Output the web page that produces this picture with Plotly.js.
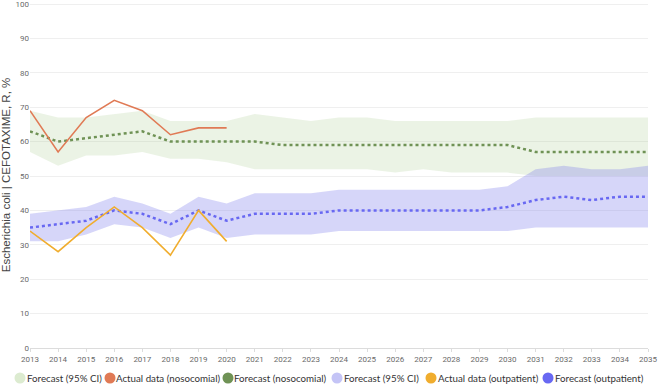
<!DOCTYPE html>
<html>
<head>
<meta charset="utf-8">
<script src="https://cdn.plot.ly/plotly-3.0.1.min.js"></script>
<style>
  html, body { margin: 0; padding: 0; background: #fff; }
  #chart { width: 658px; height: 387px; }
</style>
</head>
<body>
<div id="chart"></div>
<script>
// Years on the horizontal axis
const years = [2013, 2014, 2015, 2016, 2017, 2018, 2019, 2020, 2021, 2022, 2023, 2024,
               2025, 2026, 2027, 2028, 2029, 2030, 2031, 2032, 2033, 2034, 2035];
const actualYears = [2013, 2014, 2015, 2016, 2017, 2018, 2019, 2020];

// Nosocomial isolates
const nosoActual   = [69, 57, 67, 72, 69, 62, 64, 64];
const nosoForecast = [63, 60, 61, 62, 63, 60, 60, 60, 60, 59, 59, 59, 59, 59, 59, 59, 59, 59, 57, 57, 57, 57, 57];
const nosoUpper    = [69, 67, 67, 68, 69, 66, 66, 66, 68, 67, 66, 67, 67, 66, 66, 66, 66, 66, 67, 67, 67, 67, 67];
const nosoLower    = [57, 53, 56, 56, 57, 55, 55, 54, 52, 52, 52, 52, 52, 51, 52, 51, 51, 51, 50, 50, 50, 50, 50];

// Outpatient isolates
const outActual   = [34, 28, 35, 41, 35, 27, 40, 31];
const outForecast = [35, 36, 37, 40, 39, 36, 40, 37, 39, 39, 39, 40, 40, 40, 40, 40, 40, 41, 43, 44, 43, 44, 44];
const outUpper    = [39, 40, 41, 44, 42, 39, 44, 42, 45, 45, 45, 46, 46, 46, 46, 46, 46, 47, 52, 53, 52, 52, 53];
const outLower    = [31, 31, 33, 36, 35, 32, 35, 32, 33, 33, 33, 34, 34, 34, 34, 34, 34, 34, 35, 35, 35, 35, 35];

const yTicks = [0, 10, 20, 30, 40, 50, 60, 70, 80, 90, 100];

const legendNames = ['Forecast (95% CI)', 'Actual data (nosocomial)', 'Forecast (nosocomial)',
                     'Forecast (95% CI)', 'Actual data (outpatient)', 'Forecast (outpatient)'];

const C = {
  nosoBand: 'rgba(160,200,130,0.21)',
  nosoBandKey: '#dcebd0',
  nosoActual: '#e07a55',
  nosoForecast: '#6f9255',
  outBand: 'rgba(120,120,235,0.30)',
  outBandKey: '#c4c4f6',
  outActual: '#f0ad2e',
  outForecast: '#6868f2'
};

const traces = [
  { x: years, y: nosoLower, mode: 'lines', line: { width: 0 }, hoverinfo: 'skip', showlegend: false },
  { x: years, y: nosoUpper, mode: 'lines', line: { width: 0 }, fill: 'tonexty',
    fillcolor: C.nosoBand, name: legendNames[0], showlegend: false },
  { x: years, y: outLower, mode: 'lines', line: { width: 0 }, hoverinfo: 'skip', showlegend: false },
  { x: years, y: outUpper, mode: 'lines', line: { width: 0 }, fill: 'tonexty',
    fillcolor: C.outBand, name: legendNames[3], showlegend: false },
  { x: years, y: nosoForecast, mode: 'lines', name: legendNames[2], showlegend: false,
    line: { color: C.nosoForecast, width: 2.5, dash: '3px,3px' } },
  { x: years, y: outForecast, mode: 'lines', name: legendNames[5], showlegend: false,
    line: { color: C.outForecast, width: 2.5, dash: '3px,3px' } },
  { x: actualYears, y: nosoActual, mode: 'lines', name: legendNames[1], showlegend: false,
    line: { color: C.nosoActual, width: 1.6 } },
  { x: actualYears, y: outActual, mode: 'lines', name: legendNames[4], showlegend: false,
    line: { color: C.outActual, width: 1.6 } }
];

// Plot box in pixels
const plotL = 30, plotW = 618, plotT = 2, plotH = 346;

// Legend row below the axis: a round key and a label per series
const keyColors = [C.nosoBandKey, C.nosoActual, C.nosoForecast, C.outBandKey, C.outActual, C.outForecast];
const keyPx  = [20, 110, 228, 337, 431, 548];
const textPx = [27, 116, 234, 344, 438, 555];
const textRoom = 535;              // pixels the six labels share
const legendPy = 378;
const legendFont = 'Lato';
const toPaperX = px => (px - plotL) / plotW;
const legendY = (plotT + plotH - legendPy) / plotH;

// pick a label size so the six labels fit the room between the keys
const ctx = document.createElement('canvas').getContext('2d');
ctx.font = '20px ' + legendFont;
const w20 = legendNames.reduce((s, n) => s + ctx.measureText(n).width, 0);
const legendSize = Math.min(11.5, 20 * textRoom / w20);

const shapes = [], annotations = [];
legendNames.forEach((name, i) => {
  shapes.push({
    type: 'circle', xref: 'paper', yref: 'paper',
    xsizemode: 'pixel', ysizemode: 'pixel',
    xanchor: toPaperX(keyPx[i]), yanchor: legendY,
    x0: -5.5, x1: 5.5, y0: -5.5, y1: 5.5,
    fillcolor: keyColors[i], line: { width: 0 }
  });
  annotations.push({
    xref: 'paper', yref: 'paper', x: toPaperX(textPx[i]), y: legendY,
    xanchor: 'left', yanchor: 'middle', showarrow: false, text: name,
    borderpad: 0, borderwidth: 0,
    font: { family: legendFont + ', sans-serif', size: legendSize, color: '#333' }
  });
});

const layout = {
  width: 658, height: 387,
  margin: { l: plotL, r: 658 - plotL - plotW, t: plotT, b: 387 - plotT - plotH },
  paper_bgcolor: '#fff', plot_bgcolor: '#fff',
  showlegend: false,
  xaxis: {
    range: [2013, 2035], tickmode: 'array', tickvals: years, ticktext: years.map(String),
    showgrid: false, zeroline: false, showline: true, linecolor: '#dcdcdc', linewidth: 1,
    ticks: 'outside', ticklen: 3, tickcolor: '#dcdcdc',
    tickfont: { family: 'Roboto, sans-serif', size: 8, color: '#6a6a6a' }
  },
  yaxis: {
    range: [-0.01, 100.6], tickmode: 'array', tickvals: yTicks, ticklabeloverflow: 'allow',
    showgrid: true, gridcolor: '#efefef', gridwidth: 1, zeroline: false,
    tickfont: { family: 'Roboto, sans-serif', size: 8, color: '#6a6a6a' },
    title: { text: 'Escherichia coli | CEFOTAXIME, R, %', standoff: 4,
             font: { family: 'Liberation Sans, Arial, sans-serif', size: 11.5, color: '#444' } }
  },
  shapes: shapes,
  annotations: annotations
};

Plotly.newPlot('chart', traces, layout, { displayModeBar: false, staticPlot: true });
</script>
</body>
</html>
